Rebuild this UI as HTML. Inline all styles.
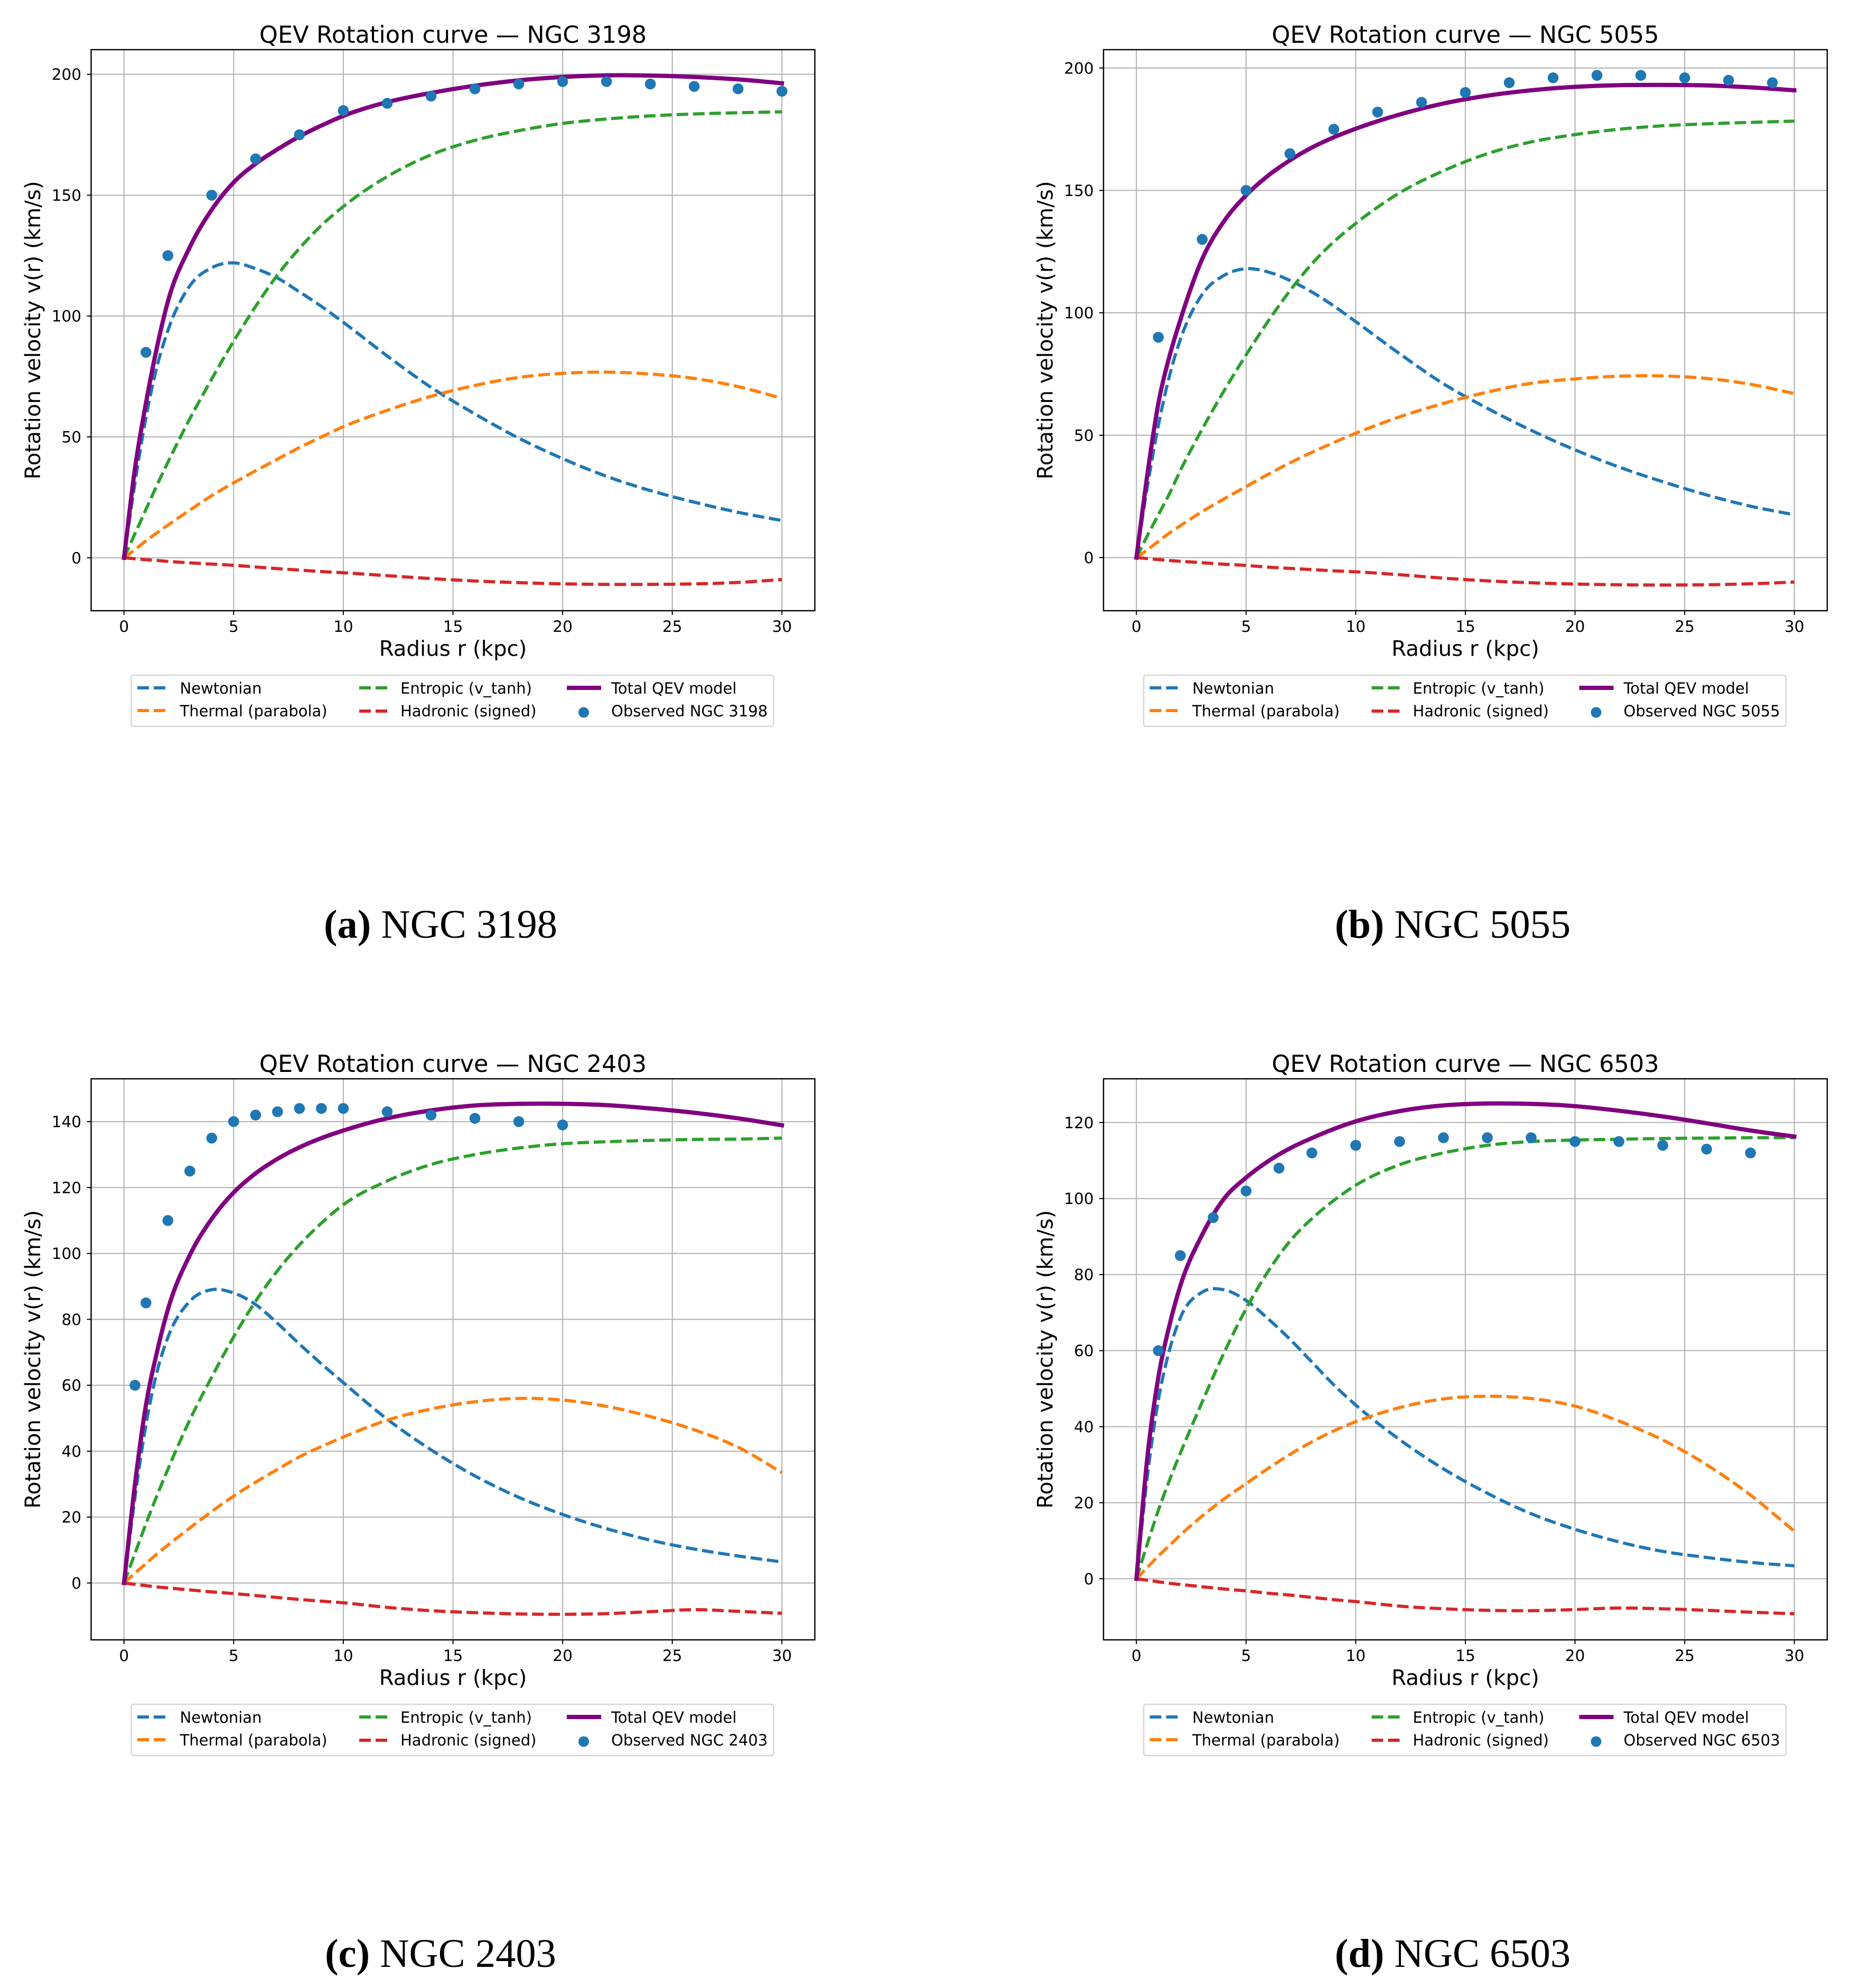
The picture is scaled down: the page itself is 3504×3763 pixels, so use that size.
<!DOCTYPE html>
<html lang="en">
<head>
<meta charset="utf-8">
<title>QEV Rotation curves</title>
<style>
  html, body { margin: 0; padding: 0; background: #ffffff; }
  body { width: 3504px; height: 3763px; overflow: hidden; }
  svg { display: block; }
  text { font-family: "DejaVu Sans", "Liberation Sans", sans-serif; fill: #000; }
  .title { font-size: 44.6px; text-anchor: middle; }
  .axis-label { font-size: 40.3px; text-anchor: middle; }
  .legend-text { font-size: 29px; }
  .tick-label { font-size: 29.5px; }
  .legend-box { fill: #fff; stroke: #d6d6d6; stroke-width: 2.5; }
  .frame { fill: none; stroke: #000; stroke-width: 2.4; }
  .dash { stroke-width: 6; stroke-dasharray: 22 9; fill: none; }
  .solid { stroke-width: 8; fill: none; stroke-linecap: square; }
  .caption { font-family: "Liberation Serif", serif; font-size: 76.5px; text-anchor: middle; }
  .caption tspan.bold { font-weight: bold; }
  .c-newton { stroke: #1f77b4; }
  .c-thermal { stroke: #ff7f0e; }
  .c-entropic { stroke: #2ca02c; }
  .c-hadronic { stroke: #d62728; }
  .c-total { stroke: #800080; }
</style>
</head>
<body>
<svg id="figure" xmlns="http://www.w3.org/2000/svg" width="3504" height="3763" viewBox="0 0 3504 3763">

  <!-- Panel A -->
  <g id="panel-a" transform="translate(0,0)">
    <g class="marks"></g>
    <rect class="frame" x="172.5" y="94" width="1370" height="1062"/>
    <text class="title" x="857.5" y="81">QEV Rotation curve — NGC 3198</text>
    <text class="axis-label" x="857.5" y="1241.5">Radius r (kpc)</text>
    <text class="axis-label" transform="translate(76,625) rotate(-90)">Rotation velocity v(r) (km/s)</text>
    <g>
      <rect class="legend-box" x="248.5" y="1278" width="1216" height="97" rx="5"/>
      <line class="dash c-newton" x1="260" y1="1302" x2="314" y2="1302"/>
      <text class="legend-text" x="340.5" y="1313">Newtonian</text>
      <line class="dash c-thermal" x1="260" y1="1345" x2="314" y2="1345"/>
      <text class="legend-text" x="340.5" y="1356">Thermal (parabola)</text>
      <line class="dash c-entropic" x1="680" y1="1302" x2="734" y2="1302"/>
      <text class="legend-text" x="758" y="1313">Entropic (v_tanh)</text>
      <line class="dash c-hadronic" x1="680" y1="1346" x2="734" y2="1346"/>
      <text class="legend-text" x="758" y="1356">Hadronic (signed)</text>
      <line class="solid c-total" x1="1077" y1="1302" x2="1134" y2="1302"/>
      <text class="legend-text" x="1157" y="1313">Total QEV model</text>
      <circle cx="1105" cy="1348.5" r="10" fill="#1f77b4"/>
      <text class="legend-text" x="1157" y="1356">Observed NGC 3198</text>
    </g>
  </g>

  <!-- Panel B -->
  <g id="panel-b" transform="translate(1916.5,0)">
    <g class="marks"></g>
    <rect class="frame" x="172.5" y="94" width="1370" height="1062"/>
    <text class="title" x="857.5" y="81">QEV Rotation curve — NGC 5055</text>
    <text class="axis-label" x="857.5" y="1241.5">Radius r (kpc)</text>
    <text class="axis-label" transform="translate(76,625) rotate(-90)">Rotation velocity v(r) (km/s)</text>
    <g>
      <rect class="legend-box" x="248.5" y="1278" width="1216" height="97" rx="5"/>
      <line class="dash c-newton" x1="260" y1="1302" x2="314" y2="1302"/>
      <text class="legend-text" x="340.5" y="1313">Newtonian</text>
      <line class="dash c-thermal" x1="260" y1="1345" x2="314" y2="1345"/>
      <text class="legend-text" x="340.5" y="1356">Thermal (parabola)</text>
      <line class="dash c-entropic" x1="680" y1="1302" x2="734" y2="1302"/>
      <text class="legend-text" x="758" y="1313">Entropic (v_tanh)</text>
      <line class="dash c-hadronic" x1="680" y1="1346" x2="734" y2="1346"/>
      <text class="legend-text" x="758" y="1356">Hadronic (signed)</text>
      <line class="solid c-total" x1="1077" y1="1302" x2="1134" y2="1302"/>
      <text class="legend-text" x="1157" y="1313">Total QEV model</text>
      <circle cx="1105" cy="1348.5" r="10" fill="#1f77b4"/>
      <text class="legend-text" x="1157" y="1356">Observed NGC 5055</text>
    </g>
  </g>

  <!-- Panel C -->
  <g id="panel-c" transform="translate(0,1948)">
    <g class="marks"></g>
    <rect class="frame" x="172.5" y="94" width="1370" height="1062"/>
    <text class="title" x="857.5" y="81">QEV Rotation curve — NGC 2403</text>
    <text class="axis-label" x="857.5" y="1241.5">Radius r (kpc)</text>
    <text class="axis-label" transform="translate(76,625) rotate(-90)">Rotation velocity v(r) (km/s)</text>
    <g>
      <rect class="legend-box" x="248.5" y="1278" width="1216" height="97" rx="5"/>
      <line class="dash c-newton" x1="260" y1="1302" x2="314" y2="1302"/>
      <text class="legend-text" x="340.5" y="1313">Newtonian</text>
      <line class="dash c-thermal" x1="260" y1="1345" x2="314" y2="1345"/>
      <text class="legend-text" x="340.5" y="1356">Thermal (parabola)</text>
      <line class="dash c-entropic" x1="680" y1="1302" x2="734" y2="1302"/>
      <text class="legend-text" x="758" y="1313">Entropic (v_tanh)</text>
      <line class="dash c-hadronic" x1="680" y1="1346" x2="734" y2="1346"/>
      <text class="legend-text" x="758" y="1356">Hadronic (signed)</text>
      <line class="solid c-total" x1="1077" y1="1302" x2="1134" y2="1302"/>
      <text class="legend-text" x="1157" y="1313">Total QEV model</text>
      <circle cx="1105" cy="1348.5" r="10" fill="#1f77b4"/>
      <text class="legend-text" x="1157" y="1356">Observed NGC 2403</text>
    </g>
  </g>

  <!-- Panel D -->
  <g id="panel-d" transform="translate(1916.5,1948)">
    <g class="marks"></g>
    <rect class="frame" x="172.5" y="94" width="1370" height="1062"/>
    <text class="title" x="857.5" y="81">QEV Rotation curve — NGC 6503</text>
    <text class="axis-label" x="857.5" y="1241.5">Radius r (kpc)</text>
    <text class="axis-label" transform="translate(76,625) rotate(-90)">Rotation velocity v(r) (km/s)</text>
    <g>
      <rect class="legend-box" x="248.5" y="1278" width="1216" height="97" rx="5"/>
      <line class="dash c-newton" x1="260" y1="1302" x2="314" y2="1302"/>
      <text class="legend-text" x="340.5" y="1313">Newtonian</text>
      <line class="dash c-thermal" x1="260" y1="1345" x2="314" y2="1345"/>
      <text class="legend-text" x="340.5" y="1356">Thermal (parabola)</text>
      <line class="dash c-entropic" x1="680" y1="1302" x2="734" y2="1302"/>
      <text class="legend-text" x="758" y="1313">Entropic (v_tanh)</text>
      <line class="dash c-hadronic" x1="680" y1="1346" x2="734" y2="1346"/>
      <text class="legend-text" x="758" y="1356">Hadronic (signed)</text>
      <line class="solid c-total" x1="1077" y1="1302" x2="1134" y2="1302"/>
      <text class="legend-text" x="1157" y="1313">Total QEV model</text>
      <circle cx="1105" cy="1348.5" r="10" fill="#1f77b4"/>
      <text class="legend-text" x="1157" y="1356">Observed NGC 6503</text>
    </g>
  </g>

  <text class="caption" x="834" y="1775"><tspan class="bold">(a)</tspan> NGC 3198</text>
  <text class="caption" x="2750" y="1775"><tspan class="bold">(b)</tspan> NGC 5055</text>
  <text class="caption" x="834" y="3723"><tspan class="bold">(c)</tspan> NGC 2403</text>
  <text class="caption" x="2750" y="3723"><tspan class="bold">(d)</tspan> NGC 6503</text>
</svg>

<script>
// Shared radius samples and x ticks
const radius = [0,0.5,1,1.5,2,3,4,5,6,7,8,9,10,12,14,16,18,20,22,24,26,28,30];
const xTicks = [0,5,10,15,20,25,30];

// NGC 3198
const yTicksA = [0,50,100,150,200];
const yDomainA = [-21.9,210.2];
const newtonianA = [0,31,58,79,94,112.5,120,122,119.6,115.7,110,104,97.4,83.5,70.5,59.5,49.5,41,33.7,27.8,23,18.8,15.4];
const thermalA = [0,3.4,7,10.3,13.5,19.7,25.7,31,36,40.8,45.6,50,54.2,61,66.8,71.3,74.6,76.3,76.8,76,74.2,70.8,66];
const entropicA = [0,10,20,30,39.5,57.5,74,89.6,104,117,128,137.5,145.3,157.7,166.7,172.7,176.7,179.7,181.5,182.8,183.6,184.1,184.5];
const hadronicA = [0,-0.4,-0.8,-1.1,-1.5,-2.1,-2.6,-3.1,-3.8,-4.5,-5.1,-5.7,-6.2,-7.4,-8.6,-9.6,-10.3,-10.8,-11,-11,-10.8,-10.2,-9];
const totalA = [0,37,64,87,106,128.5,144,155.3,163,169,174.3,178.8,182.8,188.5,192.3,195.3,197.5,198.9,199.6,199.5,198.9,197.9,196.3];
const obsRadiusA = [1,2,4,6,8,10,12,14,16,18,20,22,24,26,28,30];
const obsVelocityA = [85,125,150,165,175,185,188,191,194,196,197,197,196,195,194,193];

// NGC 5055
const yTicksB = [0,50,100,150,200];
const yDomainB = [-21.7,207.5];
const newtonianB = [0,29,54,74,89,107.5,115.3,118,116.7,113.2,108.5,102.8,96.4,83.3,71,61,52,44,37,31,25.6,21,17.5];
const thermalB = [0,3.2,6.6,10,13,18.8,24,29,34,38.7,43,47,50.8,57.5,63,67.6,71.2,73,74.1,74.2,73.2,70.8,67];
const entropicB = [0,9,17.5,26,35.5,52.5,68.2,82.8,96.5,109,120,129,136.5,149,158,165,169.8,172.8,175,176.4,177.2,177.8,178.3];
const hadronicB = [0,-0.4,-0.8,-1.2,-1.5,-2.1,-2.7,-3.2,-3.9,-4.4,-4.9,-5.4,-5.8,-7,-8.4,-9.5,-10.3,-10.8,-11.1,-11.2,-11.1,-10.7,-10];
const totalB = [0,34,63,82,97,122,137.5,148,156,162.3,167.5,171.7,175.2,181,185.5,188.7,190.9,192.3,193,193.1,192.9,192.1,190.9];
const obsRadiusB = [1,3,5,7,9,11,13,15,17,19,21,23,25,27,29];
const obsVelocityB = [90,130,150,165,175,182,186,190,194,196,197,197,196,195,194];

// NGC 2403
const yTicksC = [0,20,40,60,80,100,120,140];
const yDomainC = [-17.25,153];
const newtonianC = [0,26,48,64,74.5,85.5,89,88,84.5,78.8,72.5,66.5,60.8,49.7,40.4,32.5,26,20.8,16.5,13,10.3,8.2,6.4];
const thermalC = [0,3,5.9,8.8,11.5,16.7,21.7,26.4,30.6,34.5,38.3,41.4,44.3,49.4,52.8,55,56,55.5,53.6,50.5,46.5,41.2,33.5];
const entropicC = [0,9,18,26.5,34.5,49.5,62.5,74.7,85.5,94.8,102.6,109.2,114.8,122,127,130,132,133.3,133.9,134.3,134.6,134.7,135];
const hadronicC = [0,-0.4,-0.8,-1.2,-1.5,-2.1,-2.7,-3.2,-3.8,-4.4,-5,-5.5,-6,-7.4,-8.4,-9,-9.4,-9.5,-9.3,-8.7,-8.1,-8.6,-9.2];
const totalC = [0,30,54,70,83,99.5,110.5,118.5,124.3,128.7,132.2,135,137.3,141,143.4,144.9,145.4,145.4,145,144,142.7,141,138.9];
const obsRadiusC = [0.5,1,2,3,4,5,6,7,8,9,10,12,14,16,18,20];
const obsVelocityC = [60,85,110,125,135,140,142,143,144,144,144,143,142,141,140,139];

// NGC 6503
const yTicksD = [0,20,40,60,80,100,120];
const yDomainD = [-16.07,131.5];
const newtonianD = [0,27,47,60,68.6,75.4,76,73.2,68.4,63,57,51,45.7,36.6,28.9,22.5,17.1,13,9.7,7.2,5.6,4.3,3.4];
const thermalD = [0,3,6,8.7,11.5,16.5,21,25,29,32.7,36,38.9,41.3,45,47.3,48,47.4,45.4,41.5,36.5,30,22,12.5];
const entropicD = [0,9.2,18,25.8,33,46.5,59.5,71,80.8,88.8,94.7,99.5,103.5,108.9,112,114,115,115.4,115.6,115.8,115.9,116,116];
const hadronicD = [0,-0.4,-0.8,-1.2,-1.5,-2.1,-2.7,-3.2,-3.8,-4.3,-4.9,-5.5,-6,-7.2,-7.9,-8.3,-8.4,-8.1,-7.7,-7.9,-8.3,-8.8,-9.2];
const totalD = [0,32,53,66.5,77,90.5,100,105.5,109.8,113.2,115.9,118.3,120.3,123,124.5,125,124.9,124.3,123.1,121.6,119.8,117.9,116.3];
const obsRadiusD = [1,2,3.5,5,6.5,8,10,12,14,16,18,20,22,24,26,28];
const obsVelocityD = [60,85,95,102,108,112,114,115,116,116,116,115,115,114,113,112];

const SVG_NS = 'http://www.w3.org/2000/svg';
const plotLeft = 172.5, plotRight = 1542.5, plotTop = 94, plotBottom = 1156;
const xDomain = [-1.5, 31.5];

function make(tag, attrs) {
  const node = document.createElementNS(SVG_NS, tag);
  for (const key in attrs) node.setAttribute(key, attrs[key]);
  return node;
}

function xScale(v) {
  return plotLeft + (v - xDomain[0]) / (xDomain[1] - xDomain[0]) * (plotRight - plotLeft);
}

function yScaleFor(domain) {
  return function (v) {
    return plotBottom - (v - domain[0]) / (domain[1] - domain[0]) * (plotBottom - plotTop);
  };
}

// Smooth cubic path through the data points (three-point tangents)
function curvePath(xs, ys) {
  const n = xs.length;
  const slopes = [];
  for (let i = 0; i < n - 1; i++) slopes.push((ys[i + 1] - ys[i]) / (xs[i + 1] - xs[i]));
  const tangents = [slopes[0]];
  for (let i = 1; i < n - 1; i++) {
    const h0 = xs[i] - xs[i - 1], h1 = xs[i + 1] - xs[i];
    tangents.push((h1 * slopes[i - 1] + h0 * slopes[i]) / (h0 + h1));
  }
  tangents.push(slopes[n - 2]);
  let d = 'M' + xs[0].toFixed(2) + ' ' + ys[0].toFixed(2);
  for (let i = 0; i < n - 1; i++) {
    const h = (xs[i + 1] - xs[i]) / 3;
    d += 'C' + (xs[i] + h).toFixed(2) + ' ' + (ys[i] + tangents[i] * h).toFixed(2) + ' ' +
      (xs[i + 1] - h).toFixed(2) + ' ' + (ys[i + 1] - tangents[i + 1] * h).toFixed(2) + ' ' +
      xs[i + 1].toFixed(2) + ' ' + ys[i + 1].toFixed(2);
  }
  return d;
}

function drawPanel(panelId, yDomain, yTicks, newtonian, thermal, entropic, hadronic, total, obsRadius, obsVelocity) {
  const marks = document.querySelector('#' + panelId + ' .marks');
  const yScale = yScaleFor(yDomain);

  xTicks.forEach(function (t) {
    const x = xScale(t);
    const grid = make('line', { x1: x, x2: x, y1: plotTop, y2: plotBottom, stroke: '#b0b0b0', 'stroke-width': 2 });
    
    
    marks.appendChild(grid);
    const tick = make('line', { x1: x, x2: x, y1: plotBottom, y2: plotBottom + 8, stroke: '#000', 'stroke-width': 2 });
    
    
    marks.appendChild(tick);
    const label = make('text', { x: x, y: 1196, 'text-anchor': 'middle', class: 'tick-label' });
    
    
    label.textContent = String(t);
    marks.appendChild(label);
  });

  yTicks.forEach(function (t) {
    const y = yScale(t);
    const grid = make('line', { x1: plotLeft, x2: plotRight, y1: y, y2: y, stroke: '#b0b0b0', 'stroke-width': 2 });
    
    
    marks.appendChild(grid);
    const tick = make('line', { x1: plotLeft - 8, x2: plotLeft, y1: y, y2: y, stroke: '#000', 'stroke-width': 2 });
    
    
    marks.appendChild(tick);
    const label = make('text', { x: 154, y: y + 10.5, 'text-anchor': 'end', class: 'tick-label' });
    
    
    label.textContent = String(t);
    marks.appendChild(label);
  });

  const xs = radius.map(xScale);

  const newtonLine = make('path', { d: curvePath(xs, newtonian.map(yScale)), class: 'dash c-newton' });
  
  
  marks.appendChild(newtonLine);

  const thermalLine = make('path', { d: curvePath(xs, thermal.map(yScale)), class: 'dash c-thermal' });
  
  
  marks.appendChild(thermalLine);

  const entropicLine = make('path', { d: curvePath(xs, entropic.map(yScale)), class: 'dash c-entropic' });
  
  
  marks.appendChild(entropicLine);

  const hadronicLine = make('path', { d: curvePath(xs, hadronic.map(yScale)), class: 'dash c-hadronic' });
  
  
  marks.appendChild(hadronicLine);

  const totalLine = make('path', { d: curvePath(xs, total.map(yScale)), class: 'solid c-total' });
  
  
  marks.appendChild(totalLine);

  obsRadius.forEach(function (r, i) {
    const dot = make('circle', { cx: xScale(r), cy: yScale(obsVelocity[i]), r: 10.3, fill: '#1f77b4' });
    
    
    marks.appendChild(dot);
  });
}

drawPanel('panel-a', yDomainA, yTicksA, newtonianA, thermalA, entropicA, hadronicA, totalA, obsRadiusA, obsVelocityA);
drawPanel('panel-b', yDomainB, yTicksB, newtonianB, thermalB, entropicB, hadronicB, totalB, obsRadiusB, obsVelocityB);
drawPanel('panel-c', yDomainC, yTicksC, newtonianC, thermalC, entropicC, hadronicC, totalC, obsRadiusC, obsVelocityC);
drawPanel('panel-d', yDomainD, yTicksD, newtonianD, thermalD, entropicD, hadronicD, totalD, obsRadiusD, obsVelocityD);
</script>
</body>
</html>
